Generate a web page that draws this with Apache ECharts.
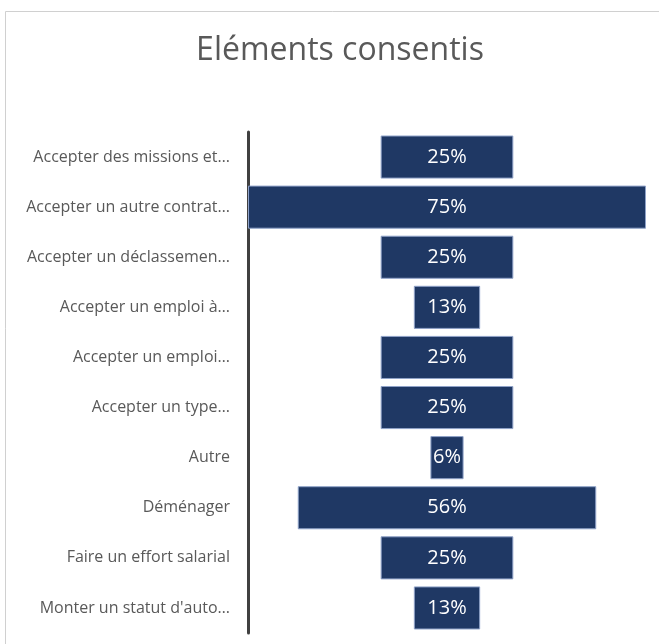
<!DOCTYPE html>
<html>
<head>
<meta charset="utf-8">
<script src="https://cdn.jsdelivr.net/npm/echarts@6/dist/echarts.min.js"></script>
<style>
  html, body { margin: 0; padding: 0; background: #fff; }
  #main { width: 659px; height: 644px; }
</style>
</head>
<body>
<div id="main"></div>
<script>
// données
var categories = [
    "Accepter des missions et…",
    "Accepter un autre contrat…",
    "Accepter un déclassemen…",
    "Accepter un emploi à…",
    "Accepter un emploi…",
    "Accepter un type…",
    "Autre",
    "Déménager",
    "Faire un effort salarial",
    "Monter un statut d'auto…"
];
var values = [25, 75, 25, 12.5, 25, 25, 6.25, 56.25, 25, 12.5];
var maxValue = 75;

// décalage transparent pour centrer les barres
var offsets = values.map(function (v) { return (maxValue - v) / 2; });

var myChart = echarts.init(document.getElementById('main'));
var option = {
    backgroundColor: '#ffffff',
    animation: false,
    title: {
        text: 'Eléments consentis',
        left: 335,
        top: 30,
        textAlign: 'center',
        textStyle: {
            color: '#595959',
            fontFamily: 'Open Sans',
            fontWeight: 'normal',
            fontSize: 32
        }
    },
    graphic: [{
        type: 'rect',
        shape: { x: 5.5, y: 11.5, width: 700, height: 700 },
        style: { fill: 'none', stroke: '#d0d0d0', lineWidth: 1 },
        silent: true,
        z: -1
    }],
    grid: {
        left: 248,
        right: 13,
        top: 132,
        bottom: 11
    },
    xAxis: {
        type: 'value',
        min: 0,
        max: maxValue,
        show: false
    },
    yAxis: {
        type: 'category',
        data: categories,
        inverse: true,
        axisLine: { show: true, lineStyle: { color: '#404040', width: 3 } },
        axisTick: { show: false },
        axisLabel: {
            color: '#595959',
            fontFamily: 'Open Sans',
            fontSize: 16,
            margin: 18,
            padding: [2, 0, 0, 0]
        }
    },
    series: [
        {
            name: 'offset',
            type: 'bar',
            stack: 'a',
            data: offsets,
            itemStyle: { color: 'transparent' },
            silent: true,
            barCategoryGap: '14%'
        },
        {
            name: 'Eléments consentis',
            type: 'bar',
            stack: 'a',
            data: values,
            barCategoryGap: '14%',
            itemStyle: {
                color: '#1f3864',
                borderColor: '#8fa2c8',
                borderWidth: 1
            },
            label: {
                show: true,
                position: 'inside',
                color: '#ffffff',
                fontFamily: 'Open Sans',
                fontSize: 20,
                formatter: function (p) { return Math.round(p.value) + '%'; }
            }
        }
    ]
};
myChart.setOption(option);
</script>
</body>
</html>
